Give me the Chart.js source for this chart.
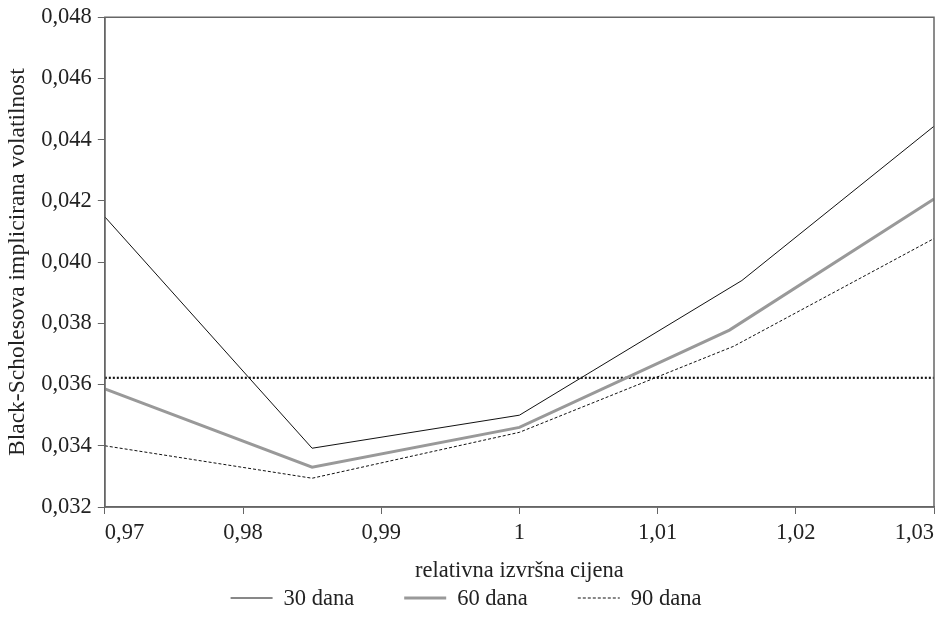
<!DOCTYPE html>
<html>
<head>
<meta charset="utf-8">
<script src="https://cdn.jsdelivr.net/npm/chart.js@4.4.0/dist/chart.umd.min.js"></script>
<style>
  body { margin: 0; background: #fff; }
  #wrap { width: 940px; height: 620px; }
</style>
</head>
<body>
<div id="wrap"><canvas id="myChart" width="940" height="620"></canvas></div>
<script>
// data
const strike30 = [0.97, 0.985, 1.0, 1.0161, 1.03];
const vol30 = [0.04148, 0.03392, 0.03500, 0.03940, 0.04444];
const strike60 = [0.97, 0.985, 1.0, 1.0152, 1.03];
const vol60 = [0.03586, 0.03330, 0.03460, 0.03778, 0.04206];
const strike90 = [0.97, 0.985, 1.0, 1.0155, 1.03];
const vol90 = [0.03400, 0.03294, 0.03444, 0.03725, 0.04077];
const refStrike = [0.97, 1.03];
const refVol = [0.03622, 0.03622];

const xTicks = [0.97, 0.98, 0.99, 1.0, 1.01, 1.02, 1.03];
const yTicks = [0.032, 0.034, 0.036, 0.038, 0.040, 0.042, 0.044, 0.046, 0.048];

const toPoints = (xs, ys) => xs.map((x, i) => ({ x: x, y: ys[i] }));

const family = '"Liberation Serif", "DejaVu Serif", serif';
const font = { family: family, size: 22.5 };
const axisColor = '#666';
const textColor = '#222';

// frame round the plot area
const framePlugin = {
  id: 'frame',
  afterDraw(chart) {
    const a = chart.chartArea;
    const c = chart.ctx;
    c.save();
    c.strokeStyle = axisColor;
    c.lineWidth = 1.5;
    c.strokeRect(a.left, a.top, a.right - a.left, a.bottom - a.top);
    c.restore();
  }
};

// legend row under the axis title (line sample + label)
const legendPlugin = {
  id: 'legendRow',
  afterDraw(chart) {
    const c = chart.ctx;
    const items = chart.data.datasets.filter(d => d.label !== 'ref');
    const sample = 42, gap = 11, spacing = 50;
    c.save();
    c.font = font.size + 'px ' + family;
    const widths = items.map(d => sample + gap + c.measureText(d.label).width);
    const total = widths.reduce((a, b) => a + b, 0) + spacing * (items.length - 1);
    let x = 466 - total / 2;
    const y = 598;
    items.forEach((d, i) => {
      c.beginPath();
      c.strokeStyle = d.borderColor;
      c.lineWidth = d.borderWidth;
      c.setLineDash(d.borderDash || []);
      c.moveTo(x, y);
      c.lineTo(x + sample, y);
      c.stroke();
      c.setLineDash([]);
      c.fillStyle = textColor;
      c.textBaseline = 'middle';
      c.fillText(d.label, x + sample + gap, y + 1);
      x += widths[i] + spacing;
    });
    c.restore();
  }
};

const data = {
  datasets: [
    {
      label: '30 dana',
      data: toPoints(strike30, vol30),
      borderColor: '#111',
      borderWidth: 1,
      pointRadius: 0
    },
    {
      label: '60 dana',
      data: toPoints(strike60, vol60),
      borderColor: '#999',
      borderWidth: 3,
      pointRadius: 0
    },
    {
      label: '90 dana',
      data: toPoints(strike90, vol90),
      borderColor: '#111',
      borderWidth: 1,
      borderDash: [3, 2],
      pointRadius: 0
    },
    {
      label: 'ref',
      data: toPoints(refStrike, refVol),
      borderColor: '#111',
      borderWidth: 2.2,
      borderDash: [2, 2],
      pointRadius: 0
    }
  ]
};

const config = {
  type: 'line',
  data,
  options: {
    responsive: false,
    animation: false,
    layout: { padding: { top: 0, right: 2, left: 4, bottom: 35 } },
    scales: {
      x: {
        type: 'linear',
        min: 0.97,
        max: 1.03,
        afterBuildTicks: (s) => { s.ticks = xTicks.map(v => ({ value: v })); },
        grid: { drawOnChartArea: false, drawTicks: true, tickLength: 7, color: axisColor },
        border: { color: axisColor, width: 1.5 },
        ticks: {
          font: font,
          color: textColor,
          align: 'inner',
          padding: 6,
          maxRotation: 0,
          callback: (v) => String(Number(v.toFixed(2))).replace('.', ',')
        },
        title: { display: true, text: 'relativna izvršna cijena', font: font, color: textColor, padding: { top: 5, bottom: 0 } }
      },
      y: {
        min: 0.032,
        max: 0.048,
        afterBuildTicks: (s) => { s.ticks = yTicks.map(v => ({ value: v })); },
        grid: { drawOnChartArea: false, drawTicks: true, tickLength: 7, color: axisColor },
        border: { color: axisColor, width: 1.5 },
        ticks: {
          font: { family: family, size: 22.5, lineHeight: 1 },
          color: textColor,
          padding: 6,
          callback: (v) => v.toFixed(3).replace('.', ',')
        },
        title: { display: true, text: 'Black-Scholesova implicirana volatilnost', font: { family: family, size: 23.5 }, color: textColor, padding: { top: 0, bottom: 3 } }
      }
    },
    plugins: {
      legend: { display: false },
      tooltip: { enabled: false }
    }
  },
  plugins: [framePlugin, legendPlugin]
};

const myChart = new Chart(document.getElementById('myChart'), config);
</script>
</body>
</html>
